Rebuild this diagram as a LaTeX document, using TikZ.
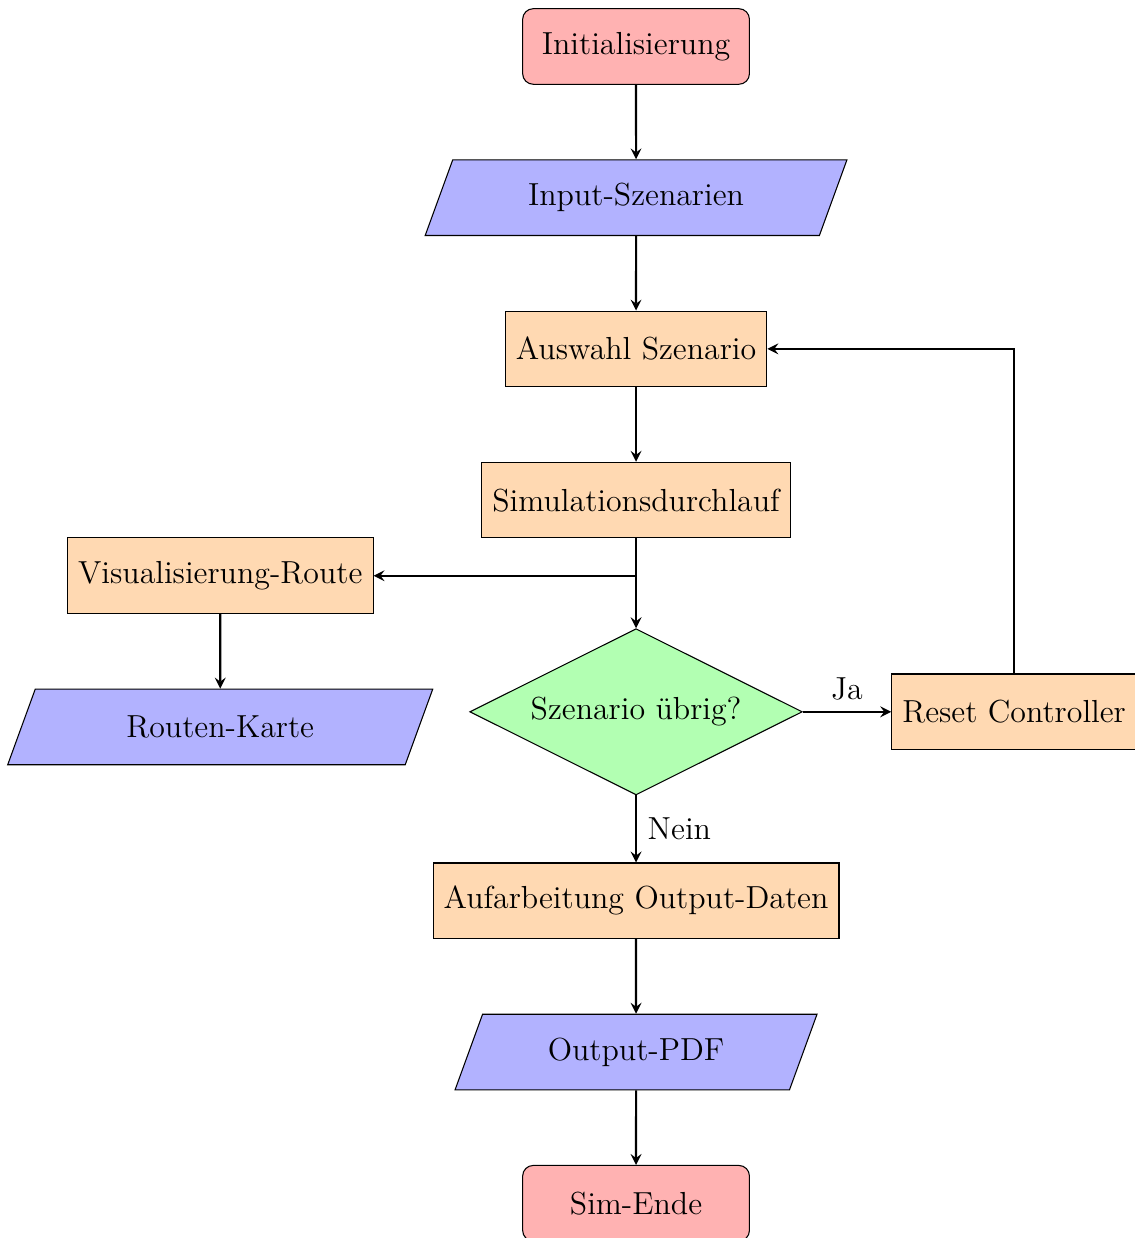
\documentclass[12pt,tikz,border=0pt]{standalone}
\usetikzlibrary{shapes.geometric,arrows}
\begin{document}
\begin{tikzpicture}[
  startstop/.style={rectangle, rounded corners, minimum width=3cm, minimum height=1cm, text centered, draw=black, fill=red!30},
  io/.style={trapezium, trapezium left angle=70, trapezium right angle=110, minimum width=3cm, minimum height=1cm, inner xsep=4.9pt, text centered, draw=black, fill=blue!30},
  process/.style={rectangle, minimum width=3cm, minimum height=1cm, text centered, draw=black, fill=orange!30},
  decision/.style={diamond, aspect=2, minimum width=3cm, minimum height=1cm, text centered, draw=black, fill=green!30},
  arrow/.style={thick,->,>=stealth}
]
\useasboundingbox (-8.413,0.615) rectangle (6.587,-15.76);
\node[startstop] (init) at (0,0) {Initialisierung};
\node[io] (input) at (0,-2) {Input-Szenarien};
\node[process] (auswahl) at (0,-4) {Auswahl Szenario};
\node[process] (sim) at (0,-6) {Simulationsdurchlauf};
\node[process] (vis) at (-5.5,-7) {Visualisierung-Route};
\node[io] (karte) at (-5.5,-9) {Routen-Karte};
\node[decision] (dec) at (0,-8.8) {Szenario übrig?};
\node[process] (reset) at (5,-8.8) {Reset Controller};
\node[process] (auf) at (0,-11.3) {Aufarbeitung Output-Daten};
\node[io] (out) at (0,-13.3) {Output-PDF};
\node[startstop] (ende) at (0,-15.3) {Sim-Ende};

\draw[arrow] (init) -- (input);
\draw[arrow] (input) -- (auswahl);
\draw[arrow] (auswahl) -- (sim);
\draw[arrow] (sim) -- (dec);
\draw[arrow] (sim.south) |- (vis.east);
\draw[arrow] (vis) -- (karte);
\draw[arrow] (dec) -- node[above] {Ja} (reset);
\draw[arrow] (reset.north) |- (auswahl.east);
\draw[arrow] (dec) -- node[right] {Nein} (auf);
\draw[arrow] (auf) -- (out);
\draw[arrow] (out) -- (ende);
\end{tikzpicture}
\end{document}
